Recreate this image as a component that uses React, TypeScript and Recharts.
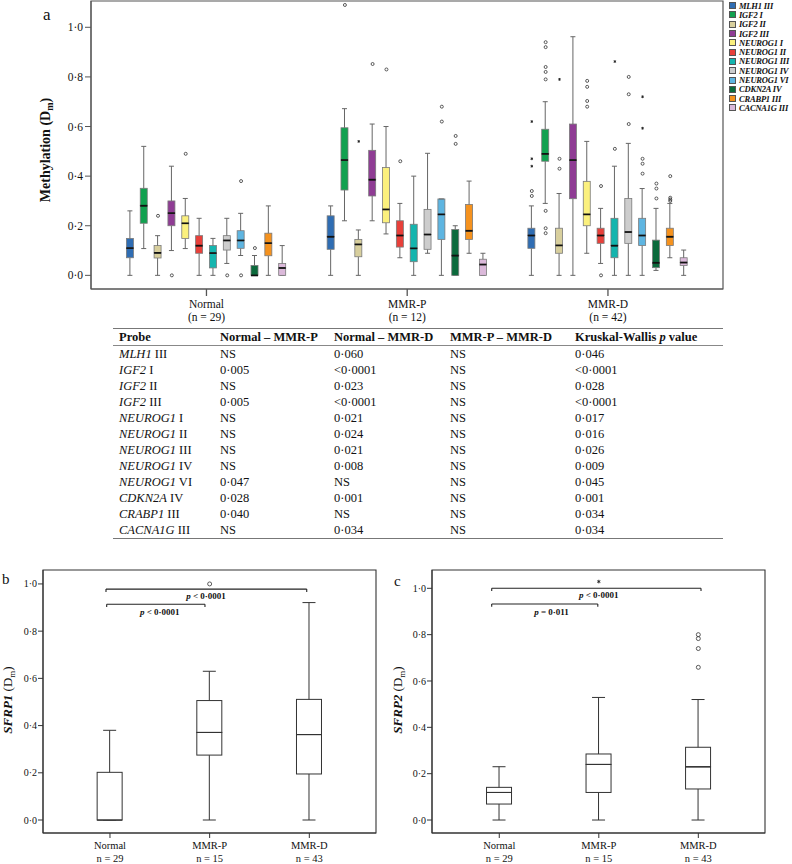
import React from 'react'
import {
  ComposedChart,
  Bar,
  Scatter,
  XAxis,
  YAxis,
  ReferenceArea,
  ReferenceLine,
  ReferenceDot,
} from 'recharts'

const FONT = '"Liberation Serif", "Times New Roman", serif'

const groups = ['Normal', 'MMR-P', 'MMR-D']
const groupCountsA = ['(n = 29)', '(n = 12)', '(n = 42)']
const groupCountsBC = ['n = 29', 'n = 15', 'n = 43']

const probeGenes = ['MLH1', 'IGF2', 'IGF2', 'IGF2', 'NEUROG1', 'NEUROG1', 'NEUROG1', 'NEUROG1', 'NEUROG1', 'CDKN2A', 'CRABP1', 'CACNA1G']
const probeRegions = ['III', 'I', 'II', 'III', 'I', 'II', 'III', 'IV', 'VI', 'IV', 'III', 'III']
const probeColors = [
  '#2f6db3', '#12a150', '#d8cf9d', '#8f3c94', '#fbf07d', '#e8403a',
  '#15b5ae', '#cdcdcd', '#5eb5e1', '#0b6a3c', '#f5921e', '#dbb9da',
]

// [min, q1, median, q3, max] per probe
const normalStats = [
  [0, 0.071, 0.11, 0.149, 0.26],
  [0.108, 0.21, 0.281, 0.351, 0.52],
  [0, 0.07, 0.091, 0.12, 0.16],
  [0.1, 0.2, 0.251, 0.3, 0.44],
  [0.108, 0.149, 0.21, 0.24, 0.31],
  [0, 0.089, 0.12, 0.16, 0.23],
  [0, 0.03, 0.09, 0.12, 0.149],
  [0.048, 0.102, 0.141, 0.16, 0.23],
  [0.08, 0.109, 0.141, 0.18, 0.25],
  [0, 0, 0, 0.04, 0.08],
  [0, 0.079, 0.13, 0.17, 0.28],
  [0, 0, 0.03, 0.048, 0.12],
]
const mmrPStats = [
  [0, 0.105, 0.156, 0.24, 0.28],
  [0.22, 0.344, 0.465, 0.595, 0.672],
  [0, 0.075, 0.125, 0.145, 0.183],
  [0.22, 0.32, 0.386, 0.504, 0.61],
  [0.167, 0.212, 0.266, 0.435, 0.6],
  [0.071, 0.114, 0.161, 0.22, 0.29],
  [0, 0.055, 0.109, 0.206, 0.4],
  [0.089, 0.105, 0.165, 0.266, 0.492],
  [0, 0.145, 0.246, 0.308, 0.308],
  [0, 0, 0.08, 0.185, 0.2],
  [0.089, 0.145, 0.18, 0.286, 0.38],
  [0, 0, 0.044, 0.065, 0.089],
]
const mmrDStats = [
  [0, 0.109, 0.161, 0.19, 0.28],
  [0.29, 0.46, 0.49, 0.589, 0.7],
  [0, 0.089, 0.121, 0.19, 0.33],
  [0, 0.309, 0.465, 0.61, 0.962],
  [0.089, 0.2, 0.246, 0.379, 0.54],
  [0.048, 0.129, 0.161, 0.19, 0.27],
  [0, 0.071, 0.12, 0.23, 0.44],
  [0, 0.129, 0.175, 0.31, 0.532],
  [0, 0.12, 0.161, 0.23, 0.35],
  [0.02, 0.031, 0.051, 0.142, 0.27],
  [0.071, 0.12, 0.156, 0.19, 0.29],
  [0, 0.04, 0.052, 0.071, 0.102],
]

// [probe index, value]
const normalOutliers = [[2, 0.24], [3, 0], [4, 0.49], [7, 0], [8, 0.38], [8, 0], [9, 0.11]]
const mmrPOutliers = [[1, 1.09], [3, 0.852], [4, 0.83], [5, 0.46], [8, 0.68], [8, 0.62], [9, 0.562], [9, 0.53]]
const mmrPExtremes = [[2, 0.54]]
const mmrDOutliers = [
  [0, 0.34], [0, 0.32], [1, 0.94], [1, 0.92], [1, 0.84], [1, 0.82], [1, 0.79], [1, 0.26], [1, 0.19], [1, 0.17],
  [2, 0.47], [2, 0.43], [4, 0.784], [4, 0.76], [4, 0.703], [4, 0.68], [5, 0.36], [5, 0], [6, 0.51],
  [7, 0.8], [7, 0.73], [7, 0.61], [8, 0.47], [8, 0.45], [8, 0.41], [9, 0.37], [9, 0.35], [9, 0.31],
  [10, 0.4], [10, 0.313], [10, 0.306], [10, 0.3],
]
const mmrDExtremes = [[0, 0.62], [0, 0.47], [0, 0.44], [2, 0.79], [6, 0.862], [8, 0.72], [8, 0.593]]

const sfrp1Stats = [
  [0, 0, 0, 0.202, 0.38],
  [0, 0.275, 0.371, 0.506, 0.63],
  [0, 0.195, 0.362, 0.511, 0.921],
]
const sfrp1Outliers = [[1, 1.0]]
const sfrp2Stats = [
  [0, 0.069, 0.119, 0.141, 0.23],
  [0, 0.119, 0.24, 0.285, 0.529],
  [0, 0.134, 0.23, 0.314, 0.52],
]
const sfrp2Outliers = [[2, 0.8], [2, 0.783], [2, 0.74], [2, 0.659]]
const sfrp2Extremes = [[1, 1.029]]

// brackets: [from group, to group, height, label x, label y]
const sfrp1Brackets = [
  [-0.04, 1.974, 0.978, 0.963, 0.949],
  [-0.033, 0.953, 0.914, 0.5, 0.881],
]
const sfrp1BracketText = [' < 0·0001', ' < 0·0001']
const sfrp2Brackets = [
  [-0.076, 2.027, 1.0, 1.0, 0.971],
  [-0.076, 0.99, 0.932, 0.525, 0.899],
]
const sfrp2BracketText = [' < 0·0001', ' = 0·011']

const normalVsMmrP = ['NS', '0·005', 'NS', '0·005', 'NS', 'NS', 'NS', 'NS', '0·047', '0·028', '0·040', 'NS']
const normalVsMmrD = ['0·060', '<0·0001', '0·023', '<0·0001', '0·021', '0·024', '0·021', '0·008', 'NS', '0·001', 'NS', '0·034']
const mmrPVsMmrD = ['NS', 'NS', 'NS', 'NS', 'NS', 'NS', 'NS', 'NS', 'NS', 'NS', 'NS', 'NS']
const kruskalWallis = ['0·046', '<0·0001', '0·028', '<0·0001', '0·017', '0·016', '0·026', '0·009', '0·045', '0·001', '0·034', '0·034']

const GROUP_GAP = 14.5
const fmt = (v: number) => v.toFixed(1).replace('.', '·')

function buildRows(stats: number[][], xs: number[], colors: string[]) {
  return stats.map(([min, q1, med, q3, max], i) => ({
    x: xs[i],
    base: min,
    lowWhisker: q1 - min,
    lowBox: med - q1,
    highBox: q3 - med,
    highWhisker: max - q3,
    color: colors[i],
  }))
}

const probeX = (g: number, p: number) => g * GROUP_GAP + p - 5.5

const rowsA = [normalStats, mmrPStats, mmrDStats].flatMap((stats, g) =>
  buildRows(stats, stats.map((_s, p) => probeX(g, p)), probeColors),
)
const pointsA = (list: number[][], g: number) => list.map(([p, v]) => ({ x: probeX(g, p), y: v }))
const outliersA = [...pointsA(normalOutliers, 0), ...pointsA(mmrPOutliers, 1), ...pointsA(mmrDOutliers, 2)]
const extremesA = [...pointsA(mmrPExtremes, 1), ...pointsA(mmrDExtremes, 2)]

interface BoxStyle {
  whisker: string
  whiskerWidth: number
  cap: number
  box: string
  boxWidth: number
  median: string
  medianWidth: number
}

const norm = (props: any) => {
  let { y, height } = props
  if (height < 0) {
    y += height
    height = -height
  }
  return { x: props.x as number, y: y as number, width: props.width as number, height: height as number }
}

const makeWhisker = (s: BoxStyle, end: 'low' | 'high') => (props: any) => {
  const { x, y, width, height } = norm(props)
  const cx = x + width / 2
  const capY = end === 'low' ? y + height : y
  return (
    <g>
      <line x1={cx} x2={cx} y1={y} y2={y + height} stroke={s.whisker} strokeWidth={s.whiskerWidth} />
      <line x1={cx - s.cap / 2} x2={cx + s.cap / 2} y1={capY} y2={capY} stroke={s.whisker} strokeWidth={s.whiskerWidth} />
    </g>
  )
}

const makeBox = (s: BoxStyle, end: 'low' | 'high') => (props: any) => {
  const { x, y, width, height } = norm(props)
  const medY = end === 'low' ? y : y + height
  return (
    <g>
      <rect x={x} y={y} width={width} height={height} fill={props.payload?.color ?? props.color} stroke={s.box} strokeWidth={s.boxWidth} />
      <line x1={x} x2={x + width} y1={medY} y2={medY} stroke={s.median} strokeWidth={s.medianWidth} />
    </g>
  )
}

const emptyShape = () => <g />

const circleShape = (r: number, stroke: string) => (props: any) => (
  <circle cx={props.cx} cy={props.cy} r={r} fill="none" stroke={stroke} strokeWidth={0.8} />
)
const starShape = (r: number, stroke: string) => (props: any) => {
  const { cx, cy } = props
  const d = [0, 60, 120].map((a) => {
    const rad = (a * Math.PI) / 180
    const dx = Math.sin(rad) * r
    const dy = Math.cos(rad) * r
    return `M${cx - dx},${cy - dy}L${cx + dx},${cy + dy}`
  })
  return <path d={d.join('')} stroke={stroke} strokeWidth={0.9} fill="none" />
}

function boxSeries(s: BoxStyle, barSize: number) {
  return [
    <Bar key="base" dataKey="base" stackId="box" barSize={barSize} shape={emptyShape} isAnimationActive={false} />,
    <Bar key="lw" dataKey="lowWhisker" stackId="box" barSize={barSize} shape={makeWhisker(s, 'low')} isAnimationActive={false} />,
    <Bar key="lb" dataKey="lowBox" stackId="box" barSize={barSize} shape={makeBox(s, 'low')} isAnimationActive={false} />,
    <Bar key="hb" dataKey="highBox" stackId="box" barSize={barSize} shape={makeBox(s, 'high')} isAnimationActive={false} />,
    <Bar key="hw" dataKey="highWhisker" stackId="box" barSize={barSize} shape={makeWhisker(s, 'high')} isAnimationActive={false} />,
  ]
}

const styleA: BoxStyle = {
  whisker: '#666', whiskerWidth: 1, cap: 5, box: '#7a7a7a', boxWidth: 0.8, median: '#111', medianWidth: 1.6,
}
const styleBC: BoxStyle = {
  whisker: '#333', whiskerWidth: 1, cap: 13, box: '#333', boxWidth: 1, median: '#333', medianWidth: 1,
}

const GroupTickA = (props: any) => {
  const { x, y, payload } = props
  const i = Math.round(payload.value / GROUP_GAP)
  return (
    <g fontFamily={FONT} fill="#111" fontSize={11.5}>
      <text x={x} y={y + 10} textAnchor="middle">{groups[i]}</text>
      <text x={x} y={y + 23} textAnchor="middle">{groupCountsA[i]}</text>
    </g>
  )
}

const GroupTickBC = (props: any) => {
  const { x, y, payload } = props
  const i = Math.round(payload.value)
  return (
    <g fontFamily={FONT} fill="#111" fontSize={10.5}>
      <text x={x} y={y + 9} textAnchor="middle">{groups[i]}</text>
      <text x={x} y={y + 22} textAnchor="middle">{groupCountsBC[i]}</text>
    </g>
  )
}

const yLabelA = () => (
  <text x={50} y={150} transform="rotate(-90 50 150)" textAnchor="middle" fontSize={14} fontWeight="bold" fill="#111" fontFamily={FONT}>
    Methylation (D<tspan dy={3} fontSize={10}>m</tspan><tspan dy={-3}>)</tspan>
  </text>
)

const makeYLabelBC = (gene: string) => () => (
  <text x={12} y={140} transform="rotate(-90 12 140)" textAnchor="middle" fontSize={13} fill="#111" fontFamily={FONT}>
    <tspan fontStyle="italic" fontWeight="bold">{gene}</tspan> (D<tspan dy={3} fontSize={9}>m</tspan><tspan dy={-3}>)</tspan>
  </text>
)

function PanelA() {
  const xDomain = [-8.34, 37.31]
  const yDomain = [-0.055, 1.106]
  return (
    <ComposedChart width={730} height={329} data={rowsA} margin={{ top: 1, right: 7, bottom: 0, left: 51 }}>
      <ReferenceArea x1={xDomain[0]} x2={xDomain[1]} y1={yDomain[0]} y2={yDomain[1]} fill="none" stroke="#555" strokeWidth={1.2} ifOverflow="visible" />
      <XAxis
        type="number"
        dataKey="x"
        domain={xDomain}
        allowDataOverflow
        ticks={[0, GROUP_GAP, GROUP_GAP * 2]}
        interval={0}
        tick={GroupTickA}
        tickSize={7}
        height={40}
        axisLine={{ stroke: '#555' }}
        tickLine={{ stroke: '#555', strokeWidth: 1.3 }}
      />
      <YAxis
        type="number"
        domain={yDomain}
        allowDataOverflow
        ticks={[0, 0.2, 0.4, 0.6, 0.8, 1.0]}
        tickFormatter={fmt}
        width={40}
        tickSize={6}
        tickMargin={2}
        tick={{ fontSize: 11.5, fill: '#111', fontFamily: FONT }}
        axisLine={{ stroke: '#555' }}
        tickLine={{ stroke: '#555' }}
        label={yLabelA}
      />
      {boxSeries(styleA, 7)}
      <Scatter data={outliersA} dataKey="y" shape={circleShape(1.5, '#333')} isAnimationActive={false} />
      <Scatter data={extremesA} dataKey="y" shape={starShape(1.4, '#222')} isAnimationActive={false} />
    </ComposedChart>
  )
}

interface PanelBCProps {
  stats: number[][]
  outliers: number[][]
  extremes: number[][]
  brackets: number[][]
  bracketText: string[]
  yDomain: number[]
  xDomain: number[]
  yAxisWidth: number
  right: number
  gene: string
}

function PanelBC({ stats, outliers, extremes, brackets, bracketText, yDomain, xDomain, yAxisWidth, right, gene }: PanelBCProps) {
  const rows = buildRows(stats, [0, 1, 2], ['#fff', '#fff', '#fff'])
  const out = outliers.map(([g, v]) => ({ x: g, y: v }))
  const ext = extremes.map(([g, v]) => ({ x: g, y: v }))
  const tickDrop = 0.012
  return (
    <ComposedChart width={380} height={304} data={rows} margin={{ top: 10, right, bottom: 0, left: 0 }}>
      <ReferenceArea x1={xDomain[0]} x2={xDomain[1]} y1={yDomain[0]} y2={yDomain[1]} fill="none" stroke="#333" strokeWidth={1.1} ifOverflow="visible" />
      <XAxis
        type="number"
        dataKey="x"
        domain={xDomain}
        allowDataOverflow
        ticks={[0, 1, 2]}
        interval={0}
        tick={GroupTickBC}
        tickSize={5}
        height={31}
        axisLine={{ stroke: '#333' }}
        tickLine={{ stroke: '#333' }}
      />
      <YAxis
        type="number"
        domain={yDomain}
        allowDataOverflow
        ticks={[0, 0.2, 0.4, 0.6, 0.8, 1.0]}
        tickFormatter={fmt}
        width={yAxisWidth}
        tickSize={5}
        tickMargin={1}
        tick={{ fontSize: 10, fill: '#111', fontFamily: FONT }}
        axisLine={{ stroke: '#333' }}
        tickLine={{ stroke: '#333' }}
        label={makeYLabelBC(gene)}
      />
      {boxSeries(styleBC, 25)}
      {brackets.map(([from, to, h, lx, ly], i) => (
        <React.Fragment key={i}>
          <ReferenceLine segment={[{ x: from, y: h }, { x: to, y: h }]} stroke="#222" strokeWidth={1.1} ifOverflow="visible" />
          <ReferenceLine segment={[{ x: from, y: h }, { x: from, y: h - tickDrop }]} stroke="#222" strokeWidth={1.1} ifOverflow="visible" />
          <ReferenceLine segment={[{ x: to, y: h }, { x: to, y: h - tickDrop }]} stroke="#222" strokeWidth={1.1} ifOverflow="visible" />
          <ReferenceDot
            x={lx}
            y={ly}
            ifOverflow="visible"
            shape={(p: any) => (
              <text x={p.cx} y={p.cy} textAnchor="middle" dominantBaseline="central" fontSize={9} fontWeight="bold" fill="#111" fontFamily={FONT}>
                <tspan fontStyle="italic">p</tspan>
                {bracketText[i]}
              </text>
            )}
          />
        </React.Fragment>
      ))}
      <Scatter data={out} dataKey="y" shape={circleShape(2, '#333')} isAnimationActive={false} />
      <Scatter data={ext} dataKey="y" shape={starShape(1.8, '#222')} isAnimationActive={false} />
    </ComposedChart>
  )
}

function LegendA() {
  return (
    <div style={{ position: 'absolute', left: 729, top: 1, fontFamily: FONT }}>
      {probeGenes.map((g, i) => (
        <div key={i} style={{ height: 9.3, display: 'flex', alignItems: 'center' }}>
          <span style={{ width: 7, height: 7, background: probeColors[i], border: '0.8px solid #555', boxSizing: 'border-box', display: 'inline-block', marginRight: 3 }} />
          <span style={{ fontSize: 8.5, fontStyle: 'italic', fontWeight: 'bold', color: '#111', whiteSpace: 'nowrap', letterSpacing: -0.2 }}>
            {g} {probeRegions[i]}
          </span>
        </div>
      ))}
    </div>
  )
}

function ProbeTable() {
  const cell: React.CSSProperties = { padding: 0, height: 16, lineHeight: '16px', whiteSpace: 'nowrap', textAlign: 'left' }
  const widths = [107, 114, 116, 125, 148]
  return (
    <table
      style={{
        position: 'absolute', left: 113, top: 328, width: 610, borderCollapse: 'collapse', tableLayout: 'fixed',
        fontFamily: FONT, fontSize: 12.5, color: '#111', borderTop: '1.5px solid #777', borderBottom: '1.5px solid #777',
      }}
    >
      <colgroup>
        {widths.map((w, i) => <col key={i} style={{ width: w }} />)}
      </colgroup>
      <thead>
        <tr style={{ borderBottom: '1px solid #888', fontWeight: 'bold' }}>
          <th style={{ ...cell, paddingLeft: 6 }}>Probe</th>
          <th style={cell}>Normal – MMR-P</th>
          <th style={cell}>Normal – MMR-D</th>
          <th style={cell}>MMR-P – MMR-D</th>
          <th style={cell}>Kruskal-Wallis <i>p</i> value</th>
        </tr>
      </thead>
      <tbody>
        {probeGenes.map((g, i) => (
          <tr key={i}>
            <td style={{ ...cell, paddingLeft: 6 }}><i>{g}</i> {probeRegions[i]}</td>
            <td style={cell}>{normalVsMmrP[i]}</td>
            <td style={cell}>{normalVsMmrD[i]}</td>
            <td style={cell}>{mmrPVsMmrD[i]}</td>
            <td style={cell}>{kruskalWallis[i]}</td>
          </tr>
        ))}
      </tbody>
    </table>
  )
}

export default function App() {
  const panelLabel = (text: string, left: number, top: number, size: number) => (
    <div style={{ position: 'absolute', left, top, fontSize: size, fontFamily: FONT, lineHeight: 1, color: '#111' }}>{text}</div>
  )
  return (
    <div style={{ position: 'absolute', left: 0, top: 0, width: 792, height: 864, background: '#fff', fontFamily: FONT }}>
      <div style={{ position: 'absolute', left: 0, top: 0 }}>
        <PanelA />
      </div>
      {panelLabel('a', 43, 6, 17)}
      <LegendA />
      <ProbeTable />
      <div style={{ position: 'absolute', left: 0, top: 560 }}>
        <PanelBC
          stats={sfrp1Stats}
          outliers={sfrp1Outliers}
          extremes={[]}
          brackets={sfrp1Brackets}
          bracketText={sfrp1BracketText}
          yDomain={[-0.055, 1.059]}
          xDomain={[-0.672, 2.669]}
          yAxisWidth={43}
          right={4}
          gene="SFRP1"
        />
      </div>
      {panelLabel('b', 2, 572, 15)}
      <div style={{ position: 'absolute', left: 390, top: 560 }}>
        <PanelBC
          stats={sfrp2Stats}
          outliers={sfrp2Outliers}
          extremes={sfrp2Extremes}
          brackets={sfrp2Brackets}
          bracketText={sfrp2BracketText}
          yDomain={[-0.056, 1.079]}
          xDomain={[-0.676, 2.67]}
          yAxisWidth={42}
          right={5}
          gene="SFRP2"
        />
      </div>
      {panelLabel('c', 394, 574, 15)}
    </div>
  )
}
